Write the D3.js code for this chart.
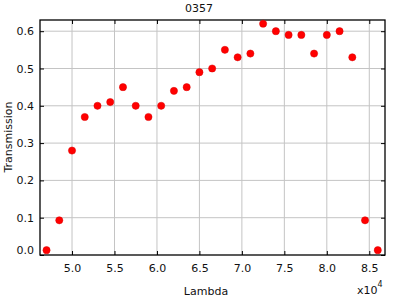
<!DOCTYPE html>
<html>
<head>
<meta charset="utf-8">
<script src="https://cdn.jsdelivr.net/npm/d3@7"></script>
<style>
	body { margin: 0; background: #fff; }
	text { font-family: "DejaVu Sans", sans-serif; font-size: 11px; fill: #111; }
</style>
</head>
<body>
<svg id="chart" width="400" height="300"></svg>
<script>

// Data (lambda in units of 1e4)
const lambda = [4.70, 4.85, 5.00, 5.15, 5.30, 5.45, 5.60, 5.75, 5.90, 6.05,
				6.20, 6.35, 6.50, 6.65, 6.80, 6.95, 7.10, 7.25, 7.40, 7.55,
				7.70, 7.85, 8.00, 8.15, 8.30, 8.45, 8.60];
const transmission = [0.013, 0.093, 0.28, 0.37, 0.40, 0.41, 0.45, 0.40, 0.37, 0.40,
					  0.44, 0.45, 0.49, 0.50, 0.55, 0.53, 0.54, 0.62, 0.60, 0.59,
					  0.59, 0.54, 0.59, 0.60, 0.53, 0.093, 0.013];
const xTicks = [5.0, 5.5, 6.0, 6.5, 7.0, 7.5, 8.0, 8.5];
const yTicks = [0.0, 0.1, 0.2, 0.3, 0.4, 0.5, 0.6];

const plotLeft = 40, plotRight = 385, plotTop = 20, plotBottom = 255;

const svg = d3.select("#chart");

const x = d3.scaleLinear()
			.domain([4.623, 8.685])
			.range([plotLeft, plotRight]);

const y = d3.scaleLinear()
			.domain([0, 0.63])
			.range([plotBottom, plotTop]);

// Grid
svg.append("g")
	.selectAll("line")
	.data(xTicks)
	.enter()
	.append("line")
		.attr("x1", d => x(d)).attr("x2", d => x(d))
		.attr("y1", plotTop).attr("y2", plotBottom)
		.attr("stroke", "#c4c4c4");

svg.append("g")
	.selectAll("line")
	.data(yTicks.filter(d => d > 0))
	.enter()
	.append("line")
		.attr("x1", plotLeft).attr("x2", plotRight)
		.attr("y1", d => y(d)).attr("y2", d => y(d))
		.attr("stroke", "#c4c4c4");

// Axes with inward ticks
const xAxis = d3.axisBottom(x).tickValues(xTicks).tickSize(-4).tickPadding(9)
				.tickFormat(d3.format(".1f"));
svg.append("g")
	.attr("transform", "translate(0," + plotBottom + ")")
	.call(xAxis);

svg.append("g")
	.attr("transform", "translate(0," + plotTop + ")")
	.call(d3.axisTop(x).tickValues(xTicks).tickSize(-4).tickFormat(""));

const yAxis = d3.axisLeft(y).tickValues(yTicks).tickSize(-4).tickPadding(6)
				.tickFormat(d3.format(".1f"));
const yg = svg.append("g")
	.attr("transform", "translate(" + plotLeft + ",0)")
	.call(yAxis);

svg.append("g")
	.attr("transform", "translate(" + plotRight + ",0)")
	.call(d3.axisRight(y).tickValues(yTicks).tickSize(-4).tickFormat(""));

svg.selectAll(".domain").remove();
svg.selectAll(".tick line").attr("stroke", "#000");
svg.selectAll(".tick text")
	.style("font-family", "'DejaVu Sans', sans-serif")
	.style("font-size", "11px")
	.attr("fill", "#111");

// keep the 0.0 label off the bottom axis
yg.selectAll(".tick text").filter(d => d === 0).attr("dy", "-0.1em");

// Frame
svg.append("rect")
	.attr("x", plotLeft).attr("y", plotTop)
	.attr("width", plotRight - plotLeft).attr("height", plotBottom - plotTop)
	.attr("fill", "none")
	.attr("stroke", "#000")
	.attr("stroke-width", 1.3);

// Points
svg.append("g")
	.selectAll("circle")
	.data(lambda.map((d, i) => ({l: d, t: transmission[i]})))
	.enter()
	.append("circle")
		.attr("cx", d => x(d.l))
		.attr("cy", d => y(d.t))
		.attr("r", 3.6)
		.attr("fill", "#ff0000")
		.attr("stroke", "#dd0000")
		.attr("stroke-width", 0.5);

// Labels
svg.append("text")
	.attr("x", 199).attr("y", 12)
	.attr("text-anchor", "middle")
	.text("0357");

svg.append("text")
	.attr("x", 206).attr("y", 295)
	.attr("text-anchor", "middle")
	.text("Lambda");

svg.append("text")
	.attr("transform", "translate(12,137) rotate(-90)")
	.attr("text-anchor", "middle")
	.text("Transmission");

const mult = svg.append("text")
	.attr("x", 357).attr("y", 294);
mult.append("tspan").text("x10");
mult.append("tspan").attr("dy", -7).style("font-size", "8px").text("4");

</script>
</body>
</html>
